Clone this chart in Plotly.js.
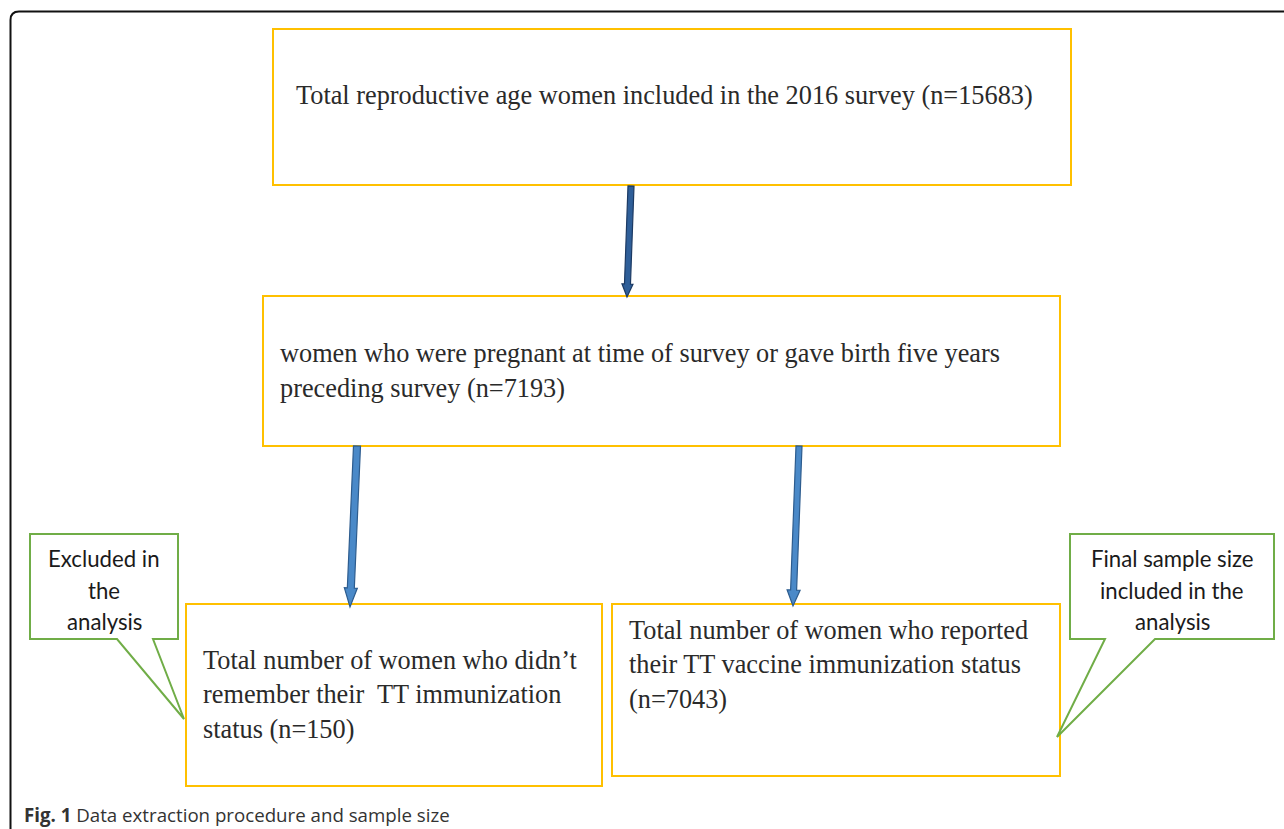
<!DOCTYPE html>
<html>
<head>
<meta charset="utf-8">
<script src="https://cdn.plot.ly/plotly-3.0.1.min.js"></script>
<style>html,body{margin:0;padding:0;background:#fff;}#chart{width:1284px;height:829px;}</style>
</head>
<body>
<div id="chart"></div>
<script>
// ---- Data (flowchart content) ----
var stageLabels = [
  "Total reproductive age women included in the 2016 survey",
  "women who were pregnant at time of survey or gave birth five years preceding survey",
  "Total number of women who didn\u2019t remember their  TT immunization status",
  "Total number of women who reported their TT vaccine immunization status"
];
var stageCounts = [15683, 7193, 150, 7043];
var calloutTexts = ["Excluded in the analysis", "Final sample size included in the analysis"];
var captionBold = "Fig. 1";
var captionText = " Data extraction procedure and sample size";

// ---- Layout geometry (pixel-like coordinates, y downward) ----
var boxes = [
  {x0:273, y0:29,  x1:1071, y1:185},
  {x0:263, y0:296, x1:1060, y1:446},
  {x0:186, y0:604, x1:602,  y1:786},
  {x0:612, y0:604, x1:1060, y1:776}
];
// text lines per box (wrapping as in the reference)
var boxLines = [
  [stageLabels[0] + " (n=" + stageCounts[0] + ")"],
  ["women who were pregnant at time of survey or gave birth five years", "preceding survey (n=" + stageCounts[1] + ")"],
  ["Total number of women who didn\u2019t", "remember their  TT immunization", "status (n=" + stageCounts[2] + ")"],
  ["Total number of women who reported", "their TT vaccine immunization status", "(n=" + stageCounts[3] + ")"]
];
var boxTextPos = [
  {x:294, y:[95]},
  {x:278, y:[353, 388]},
  {x:201, y:[660, 694, 729]},
  {x:627, y:[630, 664, 699]}
];
var calloutLines = [["Excluded in", "the", "analysis"], ["Final sample size", "included in the", "analysis"]];
var calloutTextPos = [{x:104, y:[558, 590, 621]}, {x:1172, y:[558, 590, 621]}];

var shapes = [];
var annotations = [];

// outer frame
shapes.push({type:'path', xref:'x', yref:'y', path:'M 10.5 840 L 10.5 20 Q 10.5 11.5 19 11.5 L 1300 11.5',
  line:{color:'#111', width:2}, fillcolor:'rgba(0,0,0,0)'});

// yellow boxes
boxes.forEach(function(b){
  shapes.push({type:'rect', xref:'x', yref:'y', x0:b.x0, y0:b.y0, x1:b.x1, y1:b.y1,
    line:{color:'#FFC000', width:2}, fillcolor:'rgba(0,0,0,0)'});
});

// arrows
function arrowPath(x1,y1,x2,y2,w,hw,hl){
  var dx=x2-x1, dy=y2-y1, L=Math.sqrt(dx*dx+dy*dy);
  var ux=dx/L, uy=dy/L, px=-uy, py=ux;
  var bx=x2-ux*hl, by=y2-uy*hl;
  function p(x,y){return x.toFixed(2)+' '+y.toFixed(2);}
  return 'M '+p(x1+px*w/2,y1+py*w/2)+' L '+p(bx+px*w/2,by+py*w/2)+' L '+p(bx+px*hw/2,by+py*hw/2)+
    ' L '+p(x2,y2)+' L '+p(bx-px*hw/2,by-py*hw/2)+' L '+p(bx-px*w/2,by-py*w/2)+' L '+p(x1-px*w/2,y1-py*w/2)+' Z';
}
var arrows = [
  {x1:631, y1:186, x2:627, y2:297, w:6, hw:11, hl:13, fill:'#2F5F99', line:'#1C3A63'},
  {x1:357, y1:446, x2:350, y2:607, w:7, hw:13, hl:19, fill:'#4A89C8', line:'#2D5C8E'},
  {x1:799, y1:446, x2:793, y2:606, w:6, hw:13, hl:16, fill:'#4A89C8', line:'#2D5C8E'}
];
arrows.forEach(function(a){
  shapes.push({type:'path', xref:'x', yref:'y', path:arrowPath(a.x1,a.y1,a.x2,a.y2,a.w,a.hw,a.hl),
    fillcolor:a.fill, line:{color:a.line, width:1.2}});
});

// callouts
var callouts = [
  'M 30 534 L 178 534 L 178 639 L 153 639 L 184 719 L 117 639 L 30 639 Z',
  'M 1070 534 L 1274 534 L 1274 639 L 1155 639 L 1057 737 L 1105 639 L 1070 639 Z'
];
callouts.forEach(function(c){
  shapes.push({type:'path', xref:'x', yref:'y', path:c, fillcolor:'#fff', line:{color:'#70AD47', width:2}});
});

// box texts
boxLines.forEach(function(lines, i){
  lines.forEach(function(t, j){
    annotations.push({x:boxTextPos[i].x, y:boxTextPos[i].y[j], xref:'x', yref:'y', text:t, showarrow:false,
      xanchor:'left', yanchor:'middle', font:{family:'Liberation Serif, Times New Roman, serif', size:26.3, color:'#2a2a2a'}});
  });
});
// callout texts
calloutLines.forEach(function(lines, i){
  lines.forEach(function(t, j){
    annotations.push({x:calloutTextPos[i].x, y:calloutTextPos[i].y[j], xref:'x', yref:'y', text:t, showarrow:false,
      xanchor:'center', yanchor:'middle', font:{family:'Lato, Open Sans, sans-serif', size:22.2, color:'#1a1a1a'}});
  });
});
// caption
annotations.push({x:22, y:814, xref:'x', yref:'y', text:'<b>'+captionBold+'</b>'+captionText, showarrow:false,
  xanchor:'left', yanchor:'middle', font:{family:'Open Sans, sans-serif', size:18.7, color:'#333'}});

var layout = {
  width:1284, height:829, autosize:false,
  margin:{l:0, r:0, t:0, b:0, pad:0},
  paper_bgcolor:'#fff', plot_bgcolor:'#fff',
  xaxis:{range:[0,1284], visible:false, fixedrange:true},
  yaxis:{range:[829,0], visible:false, fixedrange:true},
  shapes:shapes, annotations:annotations, showlegend:false
};
Plotly.newPlot('chart', [], layout, {displayModeBar:false, staticPlot:true});
</script>
</body>
</html>
